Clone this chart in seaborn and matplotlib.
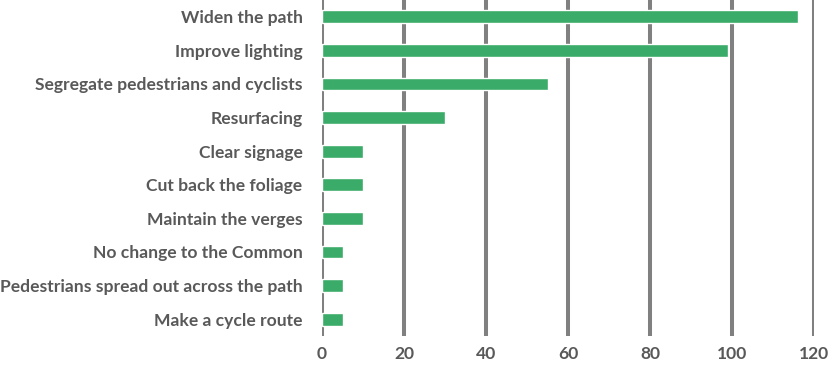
import numpy as np
import matplotlib
matplotlib.use("Agg")
import matplotlib.pyplot as plt
import seaborn as sns
import pandas as pd

categories = [
    "Widen the path",
    "Improve lighting",
    "Segregate pedestrians and cyclists",
    "Resurfacing",
    "Clear signage",
    "Cut back the foliage",
    "Maintain the verges",
    "No change to the Common",
    "Pedestrians spread out across the path",
    "Make a cycle route",
]
counts = [116, 99, 55, 30, 10, 10, 10, 5, 5, 5]
xticks = [0, 20, 40, 60, 80, 100, 120]

sns.set_style("white")
plt.rcParams["font.family"] = ["Lato", "DejaVu Sans"]

df = pd.DataFrame({"cat": categories, "n": counts})

fig = plt.figure(figsize=(8.3, 3.7), dpi=100)
ax = fig.add_axes([0.388, 0.092, 0.593, 0.908])
sns.barplot(data=df, y="cat", x="n", orient="h", color="#3aab68",
            saturation=1, width=0.38, ax=ax, zorder=3)

ax.set_xlim(0, 120)
ax.set_ylim(9.5, -0.5)
ax.set_xticks(xticks)
for x in xticks:
    ax.axvline(x, color="#808080", lw=2.9, zorder=1)
for s in ax.spines.values():
    s.set_visible(False)
ax.set_xlabel("")
ax.set_ylabel("")
ax.tick_params(axis="both", length=0)
ax.tick_params(axis="y", pad=14)
ax.tick_params(axis="x", pad=7)
for lab in ax.get_yticklabels() + ax.get_xticklabels():
    lab.set_fontsize(12.6)
    lab.set_fontweight("bold")
    lab.set_color("#595959")

fig.savefig("out.png", dpi=100)
